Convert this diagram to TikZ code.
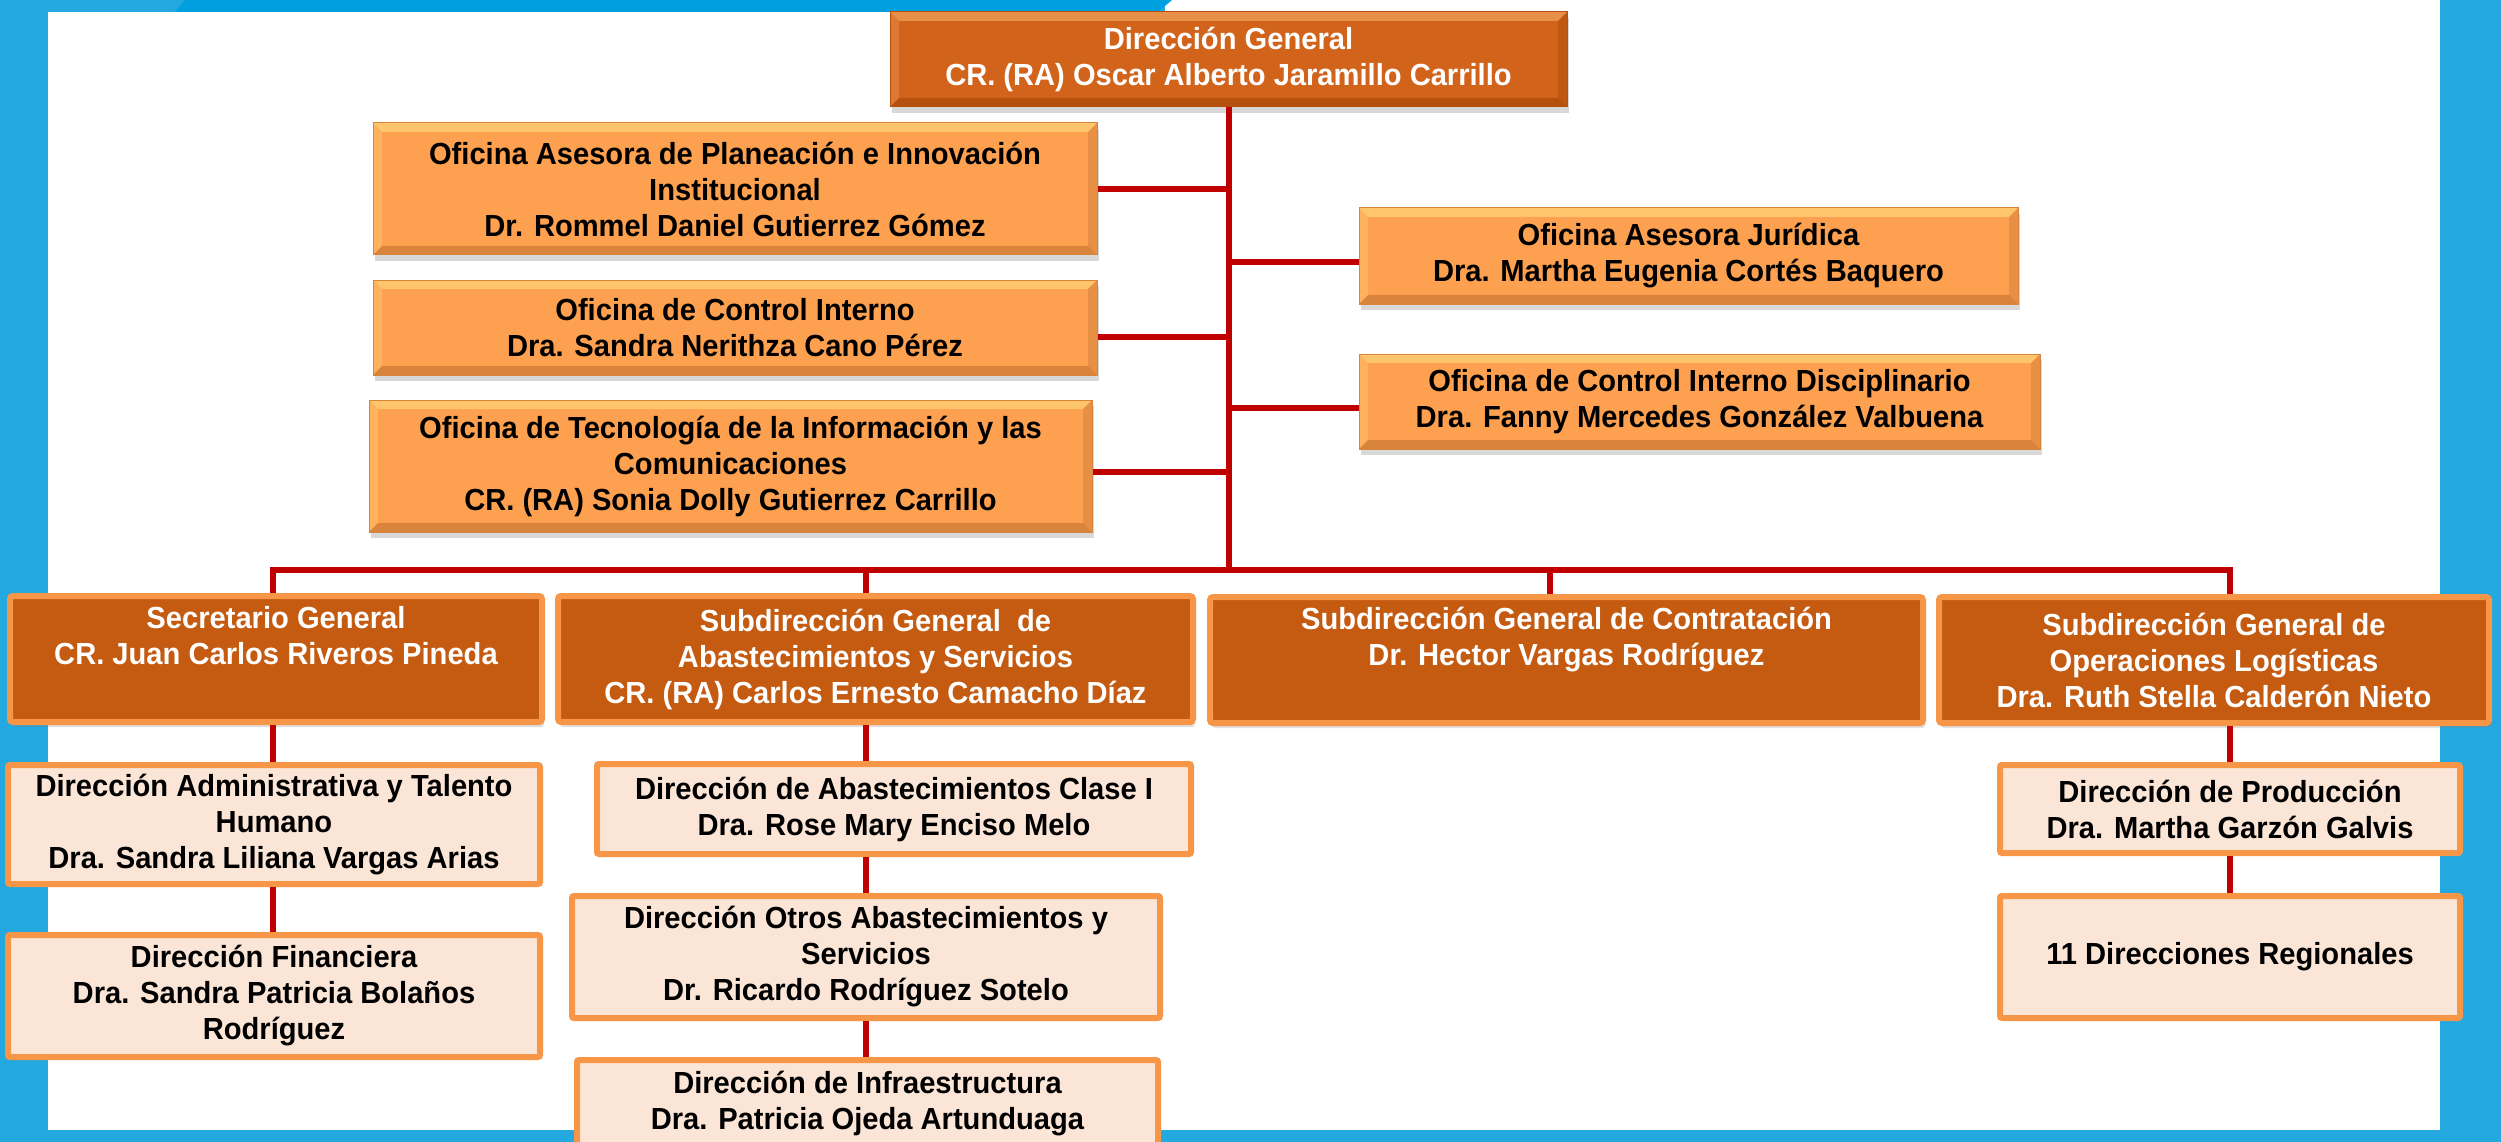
\documentclass[tikz,border=0pt]{standalone}
\usepackage{fontspec}
\setmainfont{Liberation Sans}[FakeStretch=0.955]
\usetikzlibrary{positioning,shadows}

\definecolor{frameblue}{HTML}{23A8E0}
\definecolor{topblue}{HTML}{009FE0}
\definecolor{staffor}{HTML}{FDA04F}
\definecolor{staffhi}{HTML}{FFC56C}
\definecolor{stafflo}{HTML}{D9843D}
\definecolor{heador}{HTML}{D2631A}
\definecolor{headhi}{HTML}{E8904A}
\definecolor{headlo}{HTML}{B5500F}
\definecolor{subor}{HTML}{C55A11}
\definecolor{rimor}{HTML}{F79646}
\definecolor{paleor}{HTML}{FBE5D6}
\definecolor{linkred}{HTML}{C00000}

\begin{document}
\begin{tikzpicture}[x=1pt, y=-1pt,
    font=\bfseries\fontsize{30.5}{36}\selectfont,
    bevel/.style 2 args={path picture={
        \path (path picture bounding box.north west) coordinate (bnw)
              (path picture bounding box.south east) coordinate (bse);
        \fill[#1] (bnw) -- (bnw -| bse) -- ([shift={(-9pt,-9pt)}]bnw -| bse) -- ([shift={(9pt,-9pt)}]bnw) -- cycle;
        \fill[#1, opacity=0.5] (bnw) -- ([shift={(9pt,-9pt)}]bnw) -- ([shift={(9pt,9pt)}]bnw |- bse) -- (bnw |- bse) -- cycle;
        \fill[#2] (bse) -- (bse -| bnw) -- ([shift={(9pt,9pt)}]bse -| bnw) -- ([shift={(-9pt,9pt)}]bse) -- cycle;
        \fill[#2, opacity=0.6] (bse) -- ([shift={(-9pt,9pt)}]bse) -- ([shift={(-9pt,-9pt)}]bnw -| bse) -- (bnw -| bse) -- cycle;
    }},
    headbox/.style={rectangle, fill=heador, draw=headlo, line width=1pt, text=white, align=center, inner sep=0pt,
        bevel={headhi}{headlo}, drop shadow={shadow xshift=2pt, shadow yshift=-6pt, opacity=0.3}},
    staffbox/.style={rectangle, fill=staffor, draw=stafflo, line width=1pt, align=center, inner sep=0pt,
        bevel={staffhi}{stafflo}, drop shadow={shadow xshift=2pt, shadow yshift=-6pt, opacity=0.3}},
    subbox/.style={rectangle, rounded corners=3pt, fill=subor, draw=rimor, line width=6pt, text=white,
        align=center, inner sep=0pt, minimum height=126pt,
        drop shadow={shadow xshift=2pt, shadow yshift=-5pt, opacity=0.25}},
    unitbox/.style={rectangle, rounded corners=2pt, fill=paleor, draw=rimor, line width=6pt,
        align=center, inner sep=0pt},
    link/.style={draw=linkred, line width=6pt}]

    \useasboundingbox (0,0) rectangle (2501,1142);

    % Frame
    \fill[frameblue] (0,0) rectangle (2501,1142);
    \fill[white] (48,12) rectangle (2440,1130);
    \fill[white] (1165,0) rectangle (2440,12);
    \fill[topblue] (185,0) -- (1172,0) -- (1158,12) -- (175,12) -- cycle;

    % Direction and advisory offices
    \node[headbox, minimum width=677pt, minimum height=95pt] (dg) at (1228.5,59.5)
        {Dirección General\\CR. (RA) Oscar Alberto Jaramillo Carrillo};
    \node[staffbox, minimum width=724pt, minimum height=132pt] (plan) at (735,189)
        {Oficina Asesora de Planeación e Innovación\\Institucional\\Dr. Rommel Daniel Gutierrez Gómez};
    \node[staffbox, minimum width=724pt, minimum height=95pt] (ctrl) at (735,327.5)
        {Oficina de Control Interno\\Dra. Sandra Nerithza Cano Pérez};
    \node[staffbox, minimum width=723pt, minimum height=132pt] (tic) at (730.5,466)
        {Oficina de Tecnología de la Información y las\\Comunicaciones\\CR. (RA) Sonia Dolly Gutierrez Carrillo};
    \node[staffbox, minimum width=659pt, minimum height=96pt] (jur) at (1688.5,256)
        {Oficina Asesora Jurídica\\Dra. Martha Eugenia Cortés Baquero};
    \node[staffbox, minimum width=681pt, minimum height=95pt] (disc) at (1699.5,401.5)
        {Oficina de Control Interno Disciplinario\\Dra. Fanny Mercedes González Valbuena};

    % Subdirections
    \node[subbox, minimum width=532pt] (sec) at (276,659)
        {Secretario General\\CR. Juan Carlos Riveros Pineda\\\strut};
    \node[subbox, minimum width=635pt] (abas) at (875.5,659)
        {Subdirección General\ \ de\\Abastecimientos y Servicios\\CR. (RA) Carlos Ernesto Camacho Díaz};
    \node[subbox, minimum width=713pt] (cont) at (1566.5,660)
        {Subdirección General de Contratación\\Dr. Hector Vargas Rodríguez\\\strut};
    \node[subbox, minimum width=550pt] (oper) at (2214,660)
        {Subdirección General de\\Operaciones Logísticas\\Dra. Ruth Stella Calderón Nieto};

    % Directions
    \node[unitbox, minimum width=532pt, minimum height=119pt] (adm) at (274,824.5)
        {Dirección Administrativa y Talento\\Humano\\Dra. Sandra Liliana Vargas Arias};
    \node[unitbox, minimum width=532pt, minimum height=122pt, below=45pt of adm] (fin)
        {Dirección Financiera\\Dra. Sandra Patricia Bolaños\\Rodríguez};
    \node[unitbox, minimum width=594pt, minimum height=90pt] (clase) at (894,809)
        {Dirección de Abastecimientos Clase I\\Dra. Rose Mary Enciso Melo};
    \node[unitbox, minimum width=588pt, minimum height=122pt] (otros) at (866,957)
        {Dirección Otros Abastecimientos y\\Servicios\\Dr. Ricardo Rodríguez Sotelo};
    \node[unitbox, minimum width=581pt, minimum height=87pt] (infra) at (867.5,1103.5)
        {Dirección de Infraestructura\\Dra. Patricia Ojeda Artunduaga};
    \node[unitbox, minimum width=460pt, minimum height=88pt] (prod) at (2230,809)
        {Dirección de Producción\\Dra. Martha Garzón Galvis};
    \node[unitbox, minimum width=460pt, minimum height=122pt, below=37pt of prod] (reg)
        {11 Direcciones Regionales};

    % Columns of the tree
    \coordinate (bus) at (1229,570);
    \coordinate (colA) at (273,570);
    \coordinate (colB) at (866,570);
    \coordinate (colC) at (1550,570);
    \coordinate (colD) at (2230,570);

    % Connect advisory offices
    \draw[link] (dg.south) -- (dg.south |- bus);
    \foreach \n/\s in {plan/0, ctrl/-9, tic/-6}
        \draw[link] ([yshift=\s pt]\n.east) -- ([yshift=\s pt]\n.east -| dg.south);
    \foreach \n/\s in {jur/-6, disc/-6}
        \draw[link] ([yshift=\s pt]\n.west) -- ([yshift=\s pt]\n.west -| dg.south);

    % Connect subdirections
    \draw[link] (sec.north -| colA) -- (colA) -- (colD) -- (oper.north -| colD);
    \draw[link] (colB) -- (abas.north -| colB);
    \draw[link] (colC) -- (cont.north -| colC);

    % Connect directions
    \draw[link] (sec.south -| colA) -- (adm.north -| colA);
    \draw[link] (adm.south -| colA) -- (fin.north -| colA);
    \draw[link] (abas.south -| colB) -- (clase.north -| colB);
    \draw[link] (clase.south -| colB) -- (otros.north -| colB);
    \draw[link] (otros.south -| colB) -- (infra.north -| colB);
    \draw[link] (oper.south -| colD) -- (prod.north -| colD);
    \draw[link] (prod.south -| colD) -- (reg.north -| colD);
\end{tikzpicture}
\end{document}
